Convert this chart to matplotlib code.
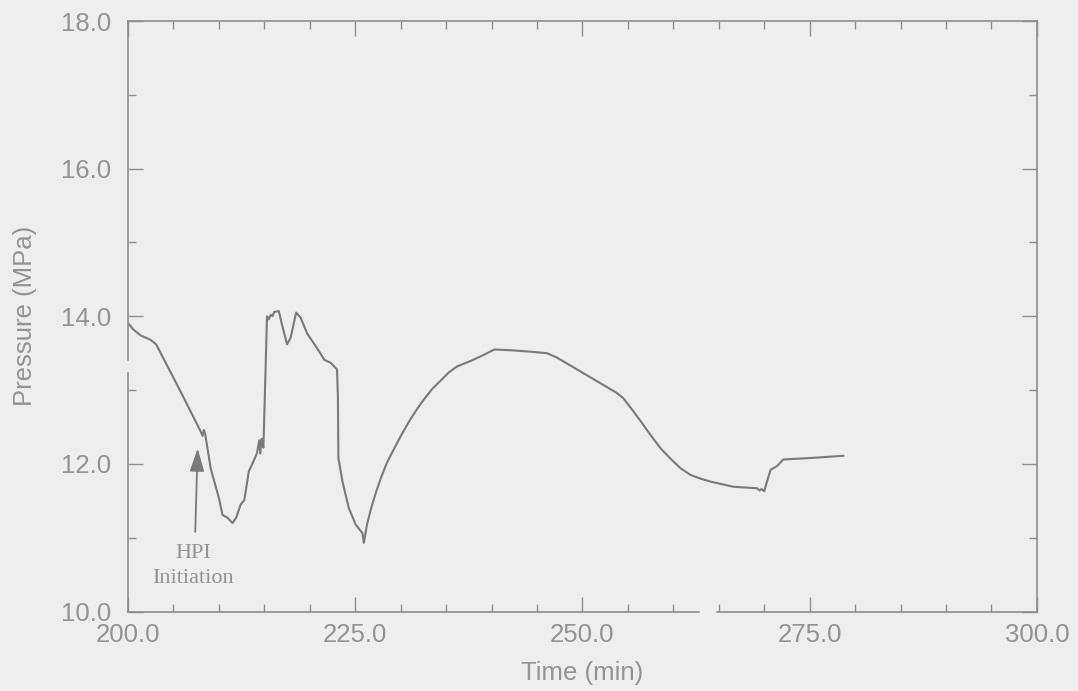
import numpy as np
import matplotlib.pyplot as plt
from matplotlib.ticker import MultipleLocator, FormatStrFormatter

# pressure trace, time in minutes, pressure in MPa
time_min = [200.0, 200.6, 201.4, 202.5, 203.1, 205.5, 208.0, 208.2, 208.35,
            208.5, 208.7, 209.1, 210.0, 210.4, 210.95, 211.5, 211.9, 212.4,
            212.8, 213.3, 213.9, 214.2, 214.45, 214.55, 214.7, 214.9, 215.3,
            215.5, 215.7, 215.9, 216.1, 216.6, 216.9, 217.5, 217.9, 218.5,
            219.0, 219.7, 221.0, 221.6, 222.3, 223.0, 223.1, 223.15, 223.6,
            224.3, 225.05, 225.8, 225.95, 226.3, 226.8, 227.3, 227.8, 228.5,
            229.3, 230.2, 231.1, 231.9, 232.6, 233.5, 234.5, 235.3, 236.2,
            237.0, 237.8, 239.2, 240.3, 242.1, 244.3, 246.1, 247.2, 248.3,
            249.4, 250.5, 251.6, 252.7, 253.8, 254.5, 255.5, 256.4, 257.5,
            258.6, 259.7, 260.8, 261.9, 263.0, 264.1, 266.6, 269.2, 269.5,
            269.7, 270.0, 270.3, 270.7, 271.4, 272.1, 275.1, 278.7]
pressure_mpa = [13.91, 13.82, 13.74, 13.68, 13.62, 13.05, 12.44, 12.38, 12.46,
                12.40, 12.25, 11.94, 11.54, 11.31, 11.27, 11.20, 11.27, 11.45,
                11.51, 11.90, 12.06, 12.15, 12.32, 12.14, 12.34, 12.22, 14.00,
                13.96, 14.02, 14.00, 14.06, 14.07, 13.91, 13.62, 13.71, 14.05,
                13.98, 13.77, 13.53, 13.41, 13.37, 13.28, 12.90, 12.08, 11.76,
                11.40, 11.18, 11.06, 10.93, 11.18, 11.42, 11.62, 11.80, 12.02,
                12.21, 12.42, 12.61, 12.76, 12.88, 13.02, 13.14, 13.24, 13.32,
                13.36, 13.40, 13.48, 13.55, 13.54, 13.52, 13.50, 13.44, 13.36,
                13.28, 13.20, 13.12, 13.04, 12.96, 12.89, 12.73, 12.58, 12.39,
                12.21, 12.07, 11.94, 11.85, 11.80, 11.76, 11.69, 11.67, 11.64,
                11.66, 11.63, 11.76, 11.92, 11.97, 12.06, 12.08, 12.11]

x_ticks = [200.0, 225.0, 250.0, 275.0, 300.0]
y_ticks = [10.0, 12.0, 14.0, 16.0, 18.0]

hpi_time = 207.6
hpi_label = ['HPI', 'Initiation']

bg = '#eeeeee'
ink = '#8e8e8e'
label_ink = '#939393'
trace = '#7a7a7a'

plt.rcParams['font.family'] = ['Liberation Sans', 'DejaVu Sans']

fig = plt.figure(figsize=(10.78, 6.91), dpi=100, facecolor=bg)
ax = fig.add_axes([0.1187, 0.1150, 0.8432, 0.8546], facecolor=bg)

ax.plot(time_min, pressure_mpa, color=trace, lw=1.5)

ax.set_xlim(x_ticks[0], x_ticks[-1])
ax.set_ylim(y_ticks[0], y_ticks[-1])
ax.set_xticks(x_ticks)
ax.set_yticks(y_ticks)
ax.xaxis.set_minor_locator(MultipleLocator(5))
ax.yaxis.set_minor_locator(MultipleLocator(1))
ax.xaxis.set_major_formatter(FormatStrFormatter('%.1f'))
ax.yaxis.set_major_formatter(FormatStrFormatter('%.1f'))

ax.tick_params(which='both', direction='in', top=True, right=True,
               color=ink, width=1.0, labelcolor=label_ink, labelsize=18.5)
ax.tick_params(which='major', length=11)
ax.tick_params(which='minor', length=6)
ax.tick_params(axis='x', pad=8)
ax.tick_params(axis='y', pad=12)

for side in ['top', 'right']:
    ax.spines[side].set_color(ink)
    ax.spines[side].set_linewidth(1.2)

# bottom and left frame lines are broken in two places
ax.spines['bottom'].set_visible(False)
ax.spines['left'].set_visible(False)
for a, b in [(200.0, 262.8), (264.8, 300.0)]:
    ax.plot([a, b], [0, 0], transform=ax.get_xaxis_transform(),
            color=ink, lw=1.2, clip_on=False)
for a, b in [(10.0, 13.23), (13.41, 18.0)]:
    ax.plot([0, 0], [a, b], transform=ax.get_yaxis_transform(),
            color=ink, lw=1.2, clip_on=False)

ax.set_xlabel('Time (min)', fontsize=18.5, color=label_ink, labelpad=10)
ax.set_ylabel('Pressure (MPa)', fontsize=18.5, color=label_ink, labelpad=17)

ax.annotate('', xy=(hpi_time + 0.07, 12.21), xytext=(hpi_time - 0.2, 11.08),
            arrowprops=dict(arrowstyle='-|>,head_width=0.22,head_length=0.7',
                            color=trace, lw=1.3, mutation_scale=20,
                            shrinkA=0, shrinkB=0))
ax.text(207.2, 10.72, hpi_label[0], ha='center', va='baseline',
        family=['Liberation Serif'], fontsize=16, color=label_ink)
ax.text(207.2, 10.385, hpi_label[1], ha='center', va='baseline',
        family=['Liberation Serif'], fontsize=16, color=label_ink)

fig.savefig('out.png', dpi=100, facecolor=bg)
